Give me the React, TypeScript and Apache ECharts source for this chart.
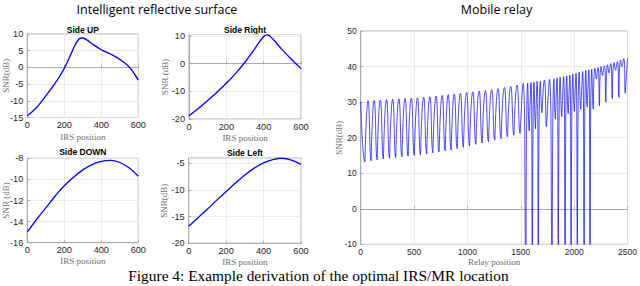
import React, { useEffect, useRef } from "react";
import * as echarts from "echarts";

// ---- Intelligent reflective surface (IRS position vs SNR) ----
const UP_X = [0, 50, 100, 150, 200, 240, 260, 280, 295, 320, 350, 400, 450, 500, 550, 600];
const UP_Y = [-14.5, -12.0, -8.5, -4.8, -0.3, 4.5, 6.9, 8.5, 8.8, 8.3, 7.1, 5.3, 4.0, 2.4, 0.2, -3.8];

const RIGHT_X = [0, 50, 100, 150, 200, 250, 300, 350, 400, 420, 450, 500, 550, 600];
const RIGHT_Y = [-18.8, -16.2, -13.3, -10.3, -7.1, -3.5, 0.5, 5.2, 9.8, 10.4, 8.8, 5.0, 1.5, -1.8];

const DOWN_X = [0, 50, 100, 150, 200, 250, 300, 350, 400, 450, 500, 550, 600];
const DOWN_Y = [-15.0, -13.8, -12.7, -11.6, -10.6, -9.8, -9.1, -8.6, -8.3, -8.2, -8.4, -8.9, -9.7];

const LEFT_X = [0, 50, 100, 150, 200, 250, 300, 350, 400, 450, 500, 550, 600];
const LEFT_Y = [-16.8, -15.2, -13.6, -11.9, -10.3, -8.7, -7.2, -5.9, -4.9, -4.3, -4.05, -4.4, -5.2];

// ---- Mobile relay (relay position vs SNR): cusps (dips) and lobe tops ----
const RELAY_START = [0, 30.2];
const RELAY_END = [2500, 42.4];
const DIP_X = [
  40, 98, 155, 213, 271, 329, 387, 445, 503, 561, 619, 677, 735, 792, 848, 905, 963, 1021, 1080, 1139,
  1198, 1257, 1316, 1376, 1436, 1494, 1549, 1580, 1610, 1638, 1666, 1700, 1742, 1795, 1825, 1853, 1885,
  1917, 1945, 1973, 2003, 2031, 2063, 2095, 2123, 2150, 2180, 2210, 2238, 2268, 2298, 2328, 2358, 2390,
  2420, 2450, 2479,
];
const DIP_Y = [
  13.2, 13.5, 13.7, 14.0, 14.2, 14.4, 14.6, 14.8, 15.0, 15.2, 15.4, 15.7, 16.0, 16.3, 16.5, 16.9, 17.3,
  17.7, 18.1, 18.5, 18.9, 19.3, 19.7, 20.2, 20.7, 21.2, -15, 21.9, -15, 22.5, -15, 27.0, 23.1, -15, 25.2,
  -15, 25.9, -15, 26.7, -15, 27.4, -15, 28.0, -15, 28.6, -15, 28.0, 36.5, 29.0, 37.5, 30.0, 38.2, 31.0,
  39.0, 31.3, 40.0, 32.5,
];
const PEAK_Y = [
  30.4, 30.5, 30.6, 30.7, 30.8, 30.9, 31.0, 31.1, 31.2, 31.4, 31.5, 31.7, 31.9, 32.1, 32.3, 32.5, 32.7,
  32.9, 33.1, 33.3, 33.5, 33.8, 34.1, 34.4, 34.8, 35.2, 35.3, 35.5, 35.6, 35.8, 35.9, 36.2, 36.4, 36.6,
  36.8, 37.0, 37.2, 37.4, 37.6, 37.9, 38.1, 38.4, 38.6, 38.9, 39.1, 39.3, 39.5, 39.7, 40.0, 40.2, 40.5,
  40.8, 41.1, 41.4, 41.8, 42.2,
];

const IRS_TICKS = [0, 200, 400, 600];
const RELAY_TICKS = [0, 500, 1000, 1500, 2000, 2500];

const SANS = "'Liberation Sans', Arial, sans-serif";
const SERIF = "'Liberation Serif', 'DejaVu Serif', serif";
const BLUE = "#0000ff";

function pairs(xs: number[], ys: number[]) {
  return xs.map((x, i) => [x, ys[i]]);
}

function relayPoints() {
  const pts: number[][] = [RELAY_START];
  DIP_X.forEach((x, i) => {
    pts.push([x, DIP_Y[i]]);
    pts.push([x + 0.5, DIP_Y[i]]);
    if (i < DIP_X.length - 1) pts.push([(x + DIP_X[i + 1]) / 2, PEAK_Y[i]]);
  });
  pts.push(RELAY_END);
  return pts;
}

const GRIDS = [
  { left: 27.3, top: 34, width: 111, height: 83.5 },
  { left: 189, top: 34.6, width: 112, height: 84.4 },
  { left: 27.3, top: 158.3, width: 111, height: 84.4 },
  { left: 188.7, top: 158, width: 112.3, height: 85.3 },
  { left: 360.7, top: 31, width: 271.6, height: 213.3 },
];

const plain = (v: number) => String(v);

function xAxis(gi: number, min: number, max: number, interval: number, name: string, fs: number, gap: number) {
  return {
    type: "value",
    gridIndex: gi,
    min,
    max,
    interval,
    name,
    nameLocation: "middle",
    nameGap: gap,
    nameMoveOverlap: false,
    nameTextStyle: { fontFamily: SERIF, fontSize: 9, color: "#6e6e6e", lineHeight: 9 },
    axisLine: { show: true, lineStyle: { color: "#9a9a9a", width: 0.8 } },
    axisTick: { show: true, inside: true, length: 2.5, lineStyle: { color: "#9a9a9a", width: 0.8 } },
    axisLabel: { fontFamily: SANS, fontSize: fs, color: "#262626", margin: 3, lineHeight: fs, formatter: plain },
    splitLine: { show: true, lineStyle: { color: "#e6e6e6", width: 0.8 } },
  };
}

function yAxis(gi: number, min: number, max: number, interval: number, name: string, fs: number, gap: number) {
  return {
    type: "value",
    gridIndex: gi,
    min,
    max,
    interval,
    name,
    nameLocation: "middle",
    nameGap: gap,
    nameMoveOverlap: false,
    nameTextStyle: { fontFamily: SERIF, fontSize: 9, color: "#6e6e6e" },
    axisLine: { show: true, lineStyle: { color: "#9a9a9a", width: 0.8 } },
    axisTick: { show: true, inside: true, length: 2.5, lineStyle: { color: "#9a9a9a", width: 0.8 } },
    axisLabel: { fontFamily: SANS, fontSize: fs, color: "#262626", margin: 4, showMaxLabel: max % interval === 0, formatter: plain },
    splitLine: { show: true, lineStyle: { color: "#e6e6e6", width: 0.8 } },
  };
}

function lineSeries(gi: number, data: number[][], width: number, smooth: number) {
  return {
    type: "line",
    xAxisIndex: gi,
    yAxisIndex: gi,
    data,
    smooth,
    showSymbol: false,
    symbol: "none",
    clip: true,
    lineStyle: { color: BLUE, width },
  };
}

function smallTitle(text: string, gi: number, y: number) {
  const g = GRIDS[gi];
  return {
    type: "text",
    x: g.left + g.width / 2,
    y,
    style: { text, fontFamily: SANS, fontWeight: "bold", fontSize: 8.5, fill: "#000", textAlign: "center", textVerticalAlign: "middle" },
  };
}

export default function App() {
  const ref = useRef<HTMLDivElement>(null);
  useEffect(() => {
    const chart = echarts.init(ref.current!, null, { renderer: "svg" });
    chart.setOption({
      animation: false,
      backgroundColor: "#ffffff",
      grid: GRIDS.map((g) => ({ ...g, show: true, borderColor: "#9a9a9a", borderWidth: 0.8, backgroundColor: "#fff" })),
      xAxis: [
        xAxis(0, IRS_TICKS[0], IRS_TICKS[3], 200, "IRS position", 9.2, 14.5),
        xAxis(1, IRS_TICKS[0], IRS_TICKS[3], 200, "IRS position", 9.2, 14.5),
        xAxis(2, IRS_TICKS[0], IRS_TICKS[3], 200, "IRS position", 9.2, 14),
        xAxis(3, IRS_TICKS[0], IRS_TICKS[3], 200, "IRS position", 9.2, 14),
        xAxis(4, RELAY_TICKS[0], RELAY_TICKS[5], 500, "Relay position", 8.5, 13),
      ],
      yAxis: [
        yAxis(0, -15, 10, 5, "SNR(dB)", 9.2, 17),
        yAxis(1, -20, 10.5, 10, "SNR (dB)", 9.2, 20),
        yAxis(2, -16, -8, 2, "SNR (dB)", 9.2, 17),
        yAxis(3, -20, -4, 5, "SNR(dB)", 9.2, 20),
        yAxis(4, -10, 50, 10, "SNR(dB)", 8.5, 17),
      ],
      series: [
        lineSeries(0, pairs(UP_X, UP_Y), 1.3, 0.4),
        lineSeries(1, pairs(RIGHT_X, RIGHT_Y), 1.3, 0.4),
        lineSeries(2, pairs(DOWN_X, DOWN_Y), 1.3, 0.4),
        lineSeries(3, pairs(LEFT_X, LEFT_Y), 1.3, 0.4),
        lineSeries(4, relayPoints(), 0.7, 0.6),
      ],
      graphic: [
        {
          type: "text",
          x: 157,
          y: 9,
          style: { text: "Intelligent reflective surface", fontFamily: "'Open Sans', sans-serif", fontSize: 12.5, fill: "#000", textAlign: "center", textVerticalAlign: "middle" },
        },
        {
          type: "text",
          x: 496.5,
          y: 9,
          style: { text: "Mobile relay", fontFamily: "'Open Sans', sans-serif", fontSize: 12.5, fill: "#000", textAlign: "center", textVerticalAlign: "middle" },
        },
        smallTitle("Side UP", 0, 29.5),
        smallTitle("Side Right", 1, 29.5),
        smallTitle("Side DOWN", 2, 152),
        smallTitle("Side Left", 3, 153),
        {
          type: "text",
          x: 318.5,
          y: 275,
          style: { text: "Figure 4: Example derivation of the optimal IRS/MR location", fontFamily: SERIF, fontSize: 15.4, fill: "#000", textAlign: "center", textVerticalAlign: "middle" },
        },
      ],
    });
    return () => chart.dispose();
  }, []);
  return <div ref={ref} style={{ position: "fixed", left: 0, top: 0, width: 640, height: 286, background: "#fff" }} />;
}
